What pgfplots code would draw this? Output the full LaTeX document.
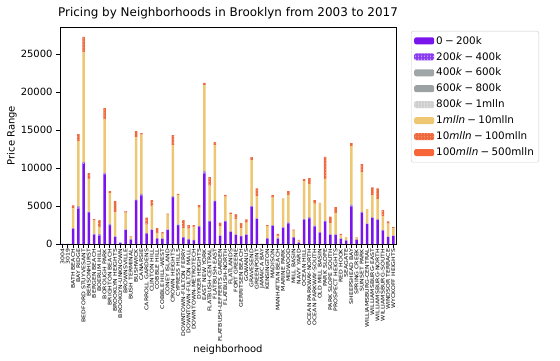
\documentclass[border=0pt]{standalone}
\usepackage{fontspec}
\setmainfont{DejaVu Sans}
\newfontfamily\cjk{Noto Sans CJK SC}
\usepackage{pgfplots}
\pgfplotsset{compat=1.18}
\usepackage{pgfplotstable}
\usetikzlibrary{patterns}
\definecolor{cA}{HTML}{7A14EC}
\definecolor{cB}{HTML}{8A3CEE}
\definecolor{cC}{HTML}{A0A6A6}
\definecolor{cD}{HTML}{9CA2A2}
\definecolor{cE}{HTML}{CFCFCF}
\definecolor{cF}{HTML}{EDC774}
\definecolor{cG}{HTML}{EE6A3E}
\definecolor{cH}{HTML}{F7653A}
\newcommand{\mi}{\hspace{0.22em}−\hspace{0.22em}}
\pgfplotstableread{
x s1 s2 s3 s4 s5 s6 s7 s8
0 30 0 0 0 0 0 0 0
1 30 0 0 0 0 0 0 0
2 2020 20 20 0 0 2640 390 0
3 4650 170 180 0 0 8550 930 0
4 10570 130 130 0 0 14440 2020 0
5 4120 70 80 0 0 4280 790 0
6 1180 100 100 0 0 1780 130 0
7 1100 100 100 0 0 940 920 0
8 9170 100 100 0 0 7080 1450 0
9 2370 150 160 0 0 4030 260 0
10 920 40 40 0 0 3170 1490 0
11 180 0 0 0 0 0 0 0
12 1840 50 50 0 0 2180 220 0
13 530 50 50 0 0 340 80 0
14 5660 110 110 0 0 8160 830 0
15 6360 130 130 0 0 7810 180 0
16 1360 50 50 0 0 1080 920 0
17 1840 50 50 0 0 3060 790 0
18 700 30 30 0 0 690 650 0
19 660 30 30 0 0 640 220 0
20 1840 50 50 0 0 1920 130 0
21 6050 130 140 0 0 6710 1310 0
22 2370 110 110 0 0 3900 130 0
23 830 30 30 0 0 1210 1060 0
24 570 30 30 0 0 1390 480 0
25 480 30 30 0 0 1660 300 0
26 2280 50 50 0 0 2400 350 0
27 9260 190 200 0 0 11270 310 0
28 2940 70 80 0 0 4590 1140 0
29 5530 110 110 0 0 7240 430 0
30 1050 40 40 0 0 1240 440 0
31 2940 70 80 0 0 3140 260 0
32 1580 50 50 0 0 2270 170 0
33 1180 40 40 0 0 1990 700 0
34 1000 40 40 0 0 1020 660 0
35 1180 40 40 0 0 1550 440 0
36 4870 90 90 0 0 6000 400 0
37 3290 50 50 0 0 2930 1010 0
38 10 0 0 0 0 0 0 0
39 700 30 30 0 0 1610 130 0
40 2370 60 70 0 0 3600 350 0
41 700 20 20 0 0 270 310 0
42 2100 60 70 0 0 3690 60 0
43 2680 90 90 0 0 3630 480 0
44 830 30 30 0 0 860 140 0
45 180 15 15 0 0 230 90 0
46 3200 60 70 0 0 4960 260 0
47 3330 110 110 0 0 4390 750 0
48 2280 90 90 0 0 2850 480 0
49 1490 40 40 0 0 3780 60 0
50 2940 60 70 0 0 5480 2940 0
51 1180 40 40 0 0 1500 840 0
52 1180 40 40 0 0 2780 830 0
53 660 20 20 0 0 440 180 0
54 440 15 15 0 0 450 0 0
55 4910 150 160 0 0 7680 390 0
56 530 15 15 0 0 360 0 0
57 4120 60 70 0 0 5230 1050 0
58 2630 50 50 0 0 1880 0 0
59 3420 60 70 0 0 2900 1010 0
60 3160 60 70 0 0 2630 1410 0
61 1750 40 40 0 0 1850 790 0
62 920 30 30 0 0 1700 300 0
63 1050 30 30 0 0 990 140 0
}\data
\begin{document}
\begin{tikzpicture}
\begin{axis}[
  scale only axis,
  width=336bp, height=217bp,
  at={(0,0)}, anchor=south west,
  ybar stacked,
  bar width=2.6bp,
  xmin=-0.5, xmax=63.5,
  ymin=0, ymax=28600,
  axis line style={line width=0.8bp},
  tick align=outside,
  major tick length=3.5bp,
  every tick/.style={black, line width=0.8bp},
  xtick pos=bottom, ytick pos=left,
  xtick=data,
  ytick={0,5000,10000,15000,20000,25000},
  scaled y ticks=false,
  /pgf/number format/1000 sep={},
  /pgf/number format/assume math mode=true,
  yticklabel style={font=\fontsize{10}{12}\selectfont, xshift=-0.5bp},
  xticklabel style={rotate=90, xscale=1.22, anchor=east, font=\fontsize{5.1}{5.1}\selectfont, inner sep=1bp},
  xticklabels={3004,3019,BATH BEACH,BAY RIDGE,BEDFORD STUYVESANT,BENSONHURST,BERGEN BEACH,BOERUM HILL,BOROUGH PARK,BRIGHTON BEACH,BROOKLYN HEIGHTS,BROOKLYN-UNKNOWN,BROWNSVILLE,BUSH TERMINAL,BUSHWICK,CANARSIE,CARROLL GARDENS,CLINTON HILL,COBBLE HILL,COBBLE HILL-WEST,CONEY ISLAND,CROWN HEIGHTS,CYPRESS HILLS,DOWNTOWN-FULTON FERRY,DOWNTOWN-FULTON MALL,DOWNTOWN-METROTECH,DYKER HEIGHTS,EAST NEW YORK,FLATBUSH-CENTRAL,FLATBUSH-EAST,FLATBUSH-LEFFERTS GARDEN,FLATBUSH-NORTH,FLATLANDS,FORT GREENE,GERRITSEN BEACH,GOWANUS,GRAVESEND,GREENPOINT,JAMAICA BAY,KENSINGTON,MADISON,MANHATTAN BEACH,MARINE PARK,MIDWOOD,MILL BASIN,NAVY YARD,OCEAN HILL,OCEAN PARKWAY-NORTH,OCEAN PARKWAY-SOUTH,OLD MILL BASIN,PARK SLOPE,PARK SLOPE SOUTH,PROSPECT HEIGHTS,RED HOOK,SEAGATE,SHEEPSHEAD BAY,SPRING CREEK,SUNSET PARK,WILLIAMSBURG-CENTRAL,WILLIAMSBURG-EAST,WILLIAMSBURG-NORTH,WILLIAMSBURG-SOUTH,WINDSOR TERRACE,WYCKOFF HEIGHTS},
  title={Pricing by Neighborhoods in Brooklyn from 2003 to 2017},
  title style={font=\fontsize{12}{14}\selectfont, yshift=-1.5bp},
  ylabel={Price Range},
  ylabel style={font=\fontsize{10}{12}\selectfont, at={(axis description cs:-0.143,0.5)}, anchor=center},
  xlabel={neighborhood},
  xlabel style={font=\fontsize{10}{12}\selectfont, at={(axis description cs:0.5,-0.488)}, anchor=center},
  legend cell align=left,
  legend image code/.code={\fill[#1] (0bp,-3.5bp) rectangle (20bp,3.5bp);},
  legend style={at={(axis description cs:1.0417,0.9816)}, anchor=north west, xshift=1bp,
    draw={rgb,255:red,204;green,204;blue,204}, rounded corners=2bp,
    font=\fontsize{10.4}{12}\selectfont, inner xsep=3bp, inner ysep=3bp, row sep=2.6bp,
    /tikz/every even column/.append style={column sep=2bp}},
]
\addplot[fill=cA, draw=none] table[x=x,y=s1]{\data};
\addplot[fill=cB, draw=none, postaction={pattern=dots, pattern color=white}] table[x=x,y=s2]{\data};
\addplot[fill=cC, draw=none] table[x=x,y=s3]{\data};
\addplot[fill=cD, draw=none] table[x=x,y=s4]{\data};
\addplot[fill=cE, draw=none, postaction={pattern=dots, pattern color=white}] table[x=x,y=s5]{\data};
\addplot[fill=cF, draw=none] table[x=x,y=s6]{\data};
\addplot[fill=cG, draw=none, postaction={pattern=dots, pattern color=white!55!cG}] table[x=x,y=s7]{\data};
\addplot[fill=cH, draw=none] table[x=x,y=s8]{\data};
\legend{0\mi 200k, 200\textit{k}\mi 400k, 400\textit{k}\mi 600k, 600\textit{k}\mi 800k, 800\textit{k}\mi 1mlln, 1\textit{mlln}\mi 10mlln, 10\textit{mlln}\mi 100mlln, 100\textit{mlln}\mi 500mlln}
\node[font=\cjk\fontsize{10.5}{12}\selectfont, text=gray!45, anchor=center] at (rel axis cs:1.3125,-0.488) {@稀土掘金技术社区};
\end{axis}
\pgfresetboundingbox
\path[use as bounding box] (-60bp,-117bp) rectangle (500bp,244bp);
\end{tikzpicture}
\end{document}
